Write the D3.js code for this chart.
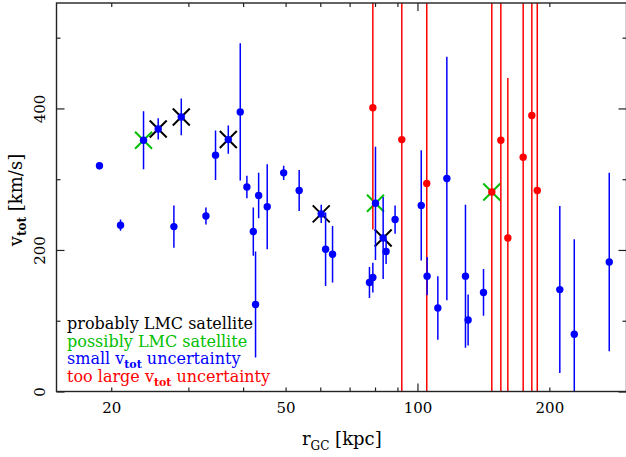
<!DOCTYPE html>
<html><head><meta charset="utf-8">
<script src="https://cdn.jsdelivr.net/npm/d3@7"></script>
<style>
html,body{margin:0;padding:0;background:#fff;}
svg{display:block;}
</style></head>
<body>
<svg id="chart" width="626" height="457"></svg>
<script>
// ---------- data ----------
// small v_tot uncertainty (blue): galactocentric distance [kpc], v_tot [km/s], error
const blueR   = [18.8,21.0,23.7,25.6,28.9,27.8,32.9,34.6,37.0,39.4,40.8,43.4,45.4,42.2,42.7,49.5,53.7,60.3,61.7,64.0,80.2,83.5,84.8,88.9,77.7,79.1,102.0,105.2,111.3,116.7,128.7,130.5,141.5,211.3,228,274];
const blueV   = [319,235,355,371,388,233,248,334,356,395,289,277,261,226,123,309,284,251,201,194,266,217,198,243,154,161,263,163,118,301,163,101,140,144,81,183];
const blueErr = [5,8,41,15,26,30,12,35,20,97,16,32,60,34,75,10,29,13,52,40,80,58,18,20,22,21,78,27,45,172,101,36,33,118,134,126];
// too large v_tot uncertainty (red)
const redR   = [79.1,92.1,105.0,147.8,155.0,160.8,174.3,182.4,187.7];
const redV   = [401,356,294,282,355,217,331,390,284];
const redErr = [172,600,600,600,600,226,600,600,600];
// LMC satellite flags
const probR = [25.6,28.9,37.0,60.3,83.5];
const probV = [371,388,356,251,217];
const possR = [23.7,80.2,147.8];
const possV = [355,266,282];
// axes
const xMajorTicks = [100];
const xMinorTicks = [20,30,40,50,60,70,80,90,200,300];
const xLabelTicks = [20,50,100,200];
const yMajorTicks = [0,200,400];
const yMinorTicks = [100,300,500];
const legendItems = [
  {pre:"probably LMC satellite", sub:"", post:"", color:"#000000"},
  {pre:"possibly LMC satellite", sub:"", post:"", color:"#00c000"},
  {pre:"small v", sub:"tot", post:" uncertainty", color:"#0000ff"},
  {pre:"too large v", sub:"tot", post:" uncertainty", color:"#ff0000"}
];

// ---------- layout ----------
const L = 56.5, R = 626.5, T = 3, B = 391.5;
const FONT = "DejaVu Serif";
const svg = d3.select("#chart");
const x = d3.scaleLog().domain([15, 300]).range([L, R]);
const y = d3.scaleLinear().domain([0, 549]).range([B, T]);

svg.append("defs").append("clipPath").attr("id","clip")
  .append("rect").attr("x",L).attr("y",T).attr("width",R-L).attr("height",B-T);

const plot = svg.append("g").attr("clip-path","url(#clip)");

function xMark(g, rs, vs, color){
  const s = 8.5;
  rs.forEach((r,i)=>{
    const cx = x(r), cy = y(vs[i]);
    g.append("path")
      .attr("d",`M${cx-s},${cy-s}L${cx+s},${cy+s}M${cx-s},${cy+s}L${cx+s},${cy-s}`)
      .attr("stroke",color).attr("stroke-width",2).attr("fill","none");
  });
}
xMark(plot, probR, probV, "#000");
xMark(plot, possR, possV, "#00c000");

function series(rs, vs, es, color){
  const g = plot.append("g");
  g.selectAll("line").data(rs).join("line")
    .attr("x1",(d)=>x(d)).attr("x2",(d)=>x(d))
    .attr("y1",(d,i)=>y(vs[i]+es[i])).attr("y2",(d,i)=>y(vs[i]-es[i]))
    .attr("stroke",color).attr("stroke-width",1.5);
  g.selectAll("circle").data(rs).join("circle")
    .attr("cx",(d)=>x(d)).attr("cy",(d,i)=>y(vs[i])).attr("r",3.7)
    .attr("fill",color);
}
series(redR, redV, redErr, "#ff0000");
series(blueR, blueV, blueErr, "#0000ff");

// ---------- axes ----------
const axisColor = "#222";
function styleAxis(g){
  g.select(".domain").remove();
  g.selectAll(".tick line").attr("stroke",axisColor).attr("stroke-width",1.2);
  g.selectAll("text").attr("font-family",FONT).attr("font-size",15).attr("fill","#000");
}
// bottom
svg.append("g").attr("transform",`translate(0,${B})`)
  .call(d3.axisBottom(x).tickValues(xMinorTicks).tickSize(-4).tickSizeOuter(0).tickPadding(11)
    .tickFormat(d=>xLabelTicks.includes(d)? d : ""))
  .call(styleAxis);
svg.append("g").attr("transform",`translate(0,${B})`)
  .call(d3.axisBottom(x).tickValues(xMajorTicks).tickSize(-8).tickSizeOuter(0).tickPadding(11)
    .tickFormat(d=>xLabelTicks.includes(d)? d : ""))
  .call(styleAxis);
// top
svg.append("g").attr("transform",`translate(0,${T})`)
  .call(d3.axisTop(x).tickValues(xMinorTicks).tickSize(-4).tickSizeOuter(0).tickFormat(""))
  .call(styleAxis);
svg.append("g").attr("transform",`translate(0,${T})`)
  .call(d3.axisTop(x).tickValues(xMajorTicks).tickSize(-8).tickSizeOuter(0).tickFormat(""))
  .call(styleAxis);
// left
svg.append("g").attr("transform",`translate(${L},0)`)
  .call(d3.axisLeft(y).tickValues(yMinorTicks).tickSize(-4).tickSizeOuter(0).tickFormat(""))
  .call(styleAxis);
const yl = svg.append("g").attr("transform",`translate(${L},0)`)
  .call(d3.axisLeft(y).tickValues(yMajorTicks).tickSize(-8).tickSizeOuter(0))
  .call(styleAxis);
yl.selectAll(".tick text")
  .attr("x",0).attr("y",-11.5).attr("dy",null)
  .attr("text-anchor","middle").attr("transform","rotate(-90)");
// right
svg.append("g").attr("transform",`translate(${R},0)`)
  .call(d3.axisRight(y).tickValues(yMinorTicks).tickSize(-4).tickSizeOuter(0).tickFormat(""))
  .call(styleAxis);
svg.append("g").attr("transform",`translate(${R},0)`)
  .call(d3.axisRight(y).tickValues(yMajorTicks).tickSize(-8).tickSizeOuter(0).tickFormat(""))
  .call(styleAxis);

// frame
svg.append("rect").attr("x",L).attr("y",T).attr("width",R-L).attr("height",B-T)
  .attr("fill","none").attr("stroke",axisColor).attr("stroke-width",1.4);

// ---------- axis titles ----------
const xt = svg.append("text").attr("x",302).attr("y",445)
  .attr("font-family",FONT).attr("font-size",18).attr("fill","#000");
xt.append("tspan").text("r");
xt.append("tspan").attr("font-size",12).attr("dy",5).text("GC");
xt.append("tspan").attr("dy",-5).text(" [kpc]");

const yt = svg.append("text").attr("transform","translate(22,200) rotate(-90)")
  .attr("text-anchor","middle")
  .attr("font-family",FONT).attr("font-size",18).attr("fill","#000");
yt.append("tspan").text("v");
yt.append("tspan").attr("font-size",12).attr("dy",4).attr("font-weight","bold").text("tot");
yt.append("tspan").attr("dy",-4).text(" [km/s]");

// ---------- legend ----------
const lg = svg.append("g");
legendItems.forEach((it,i)=>{
  const t = lg.append("text").attr("x",67).attr("y",329 + i*17.7)
    .attr("font-family",FONT).attr("font-size",16).attr("fill",it.color);
  t.append("tspan").text(it.pre);
  if(it.sub){
    t.append("tspan").attr("font-size",11).attr("font-weight","bold").attr("dy",4).text(it.sub);
    t.append("tspan").attr("dy",-4).text(it.post);
  }
});
</script>
</body></html>
